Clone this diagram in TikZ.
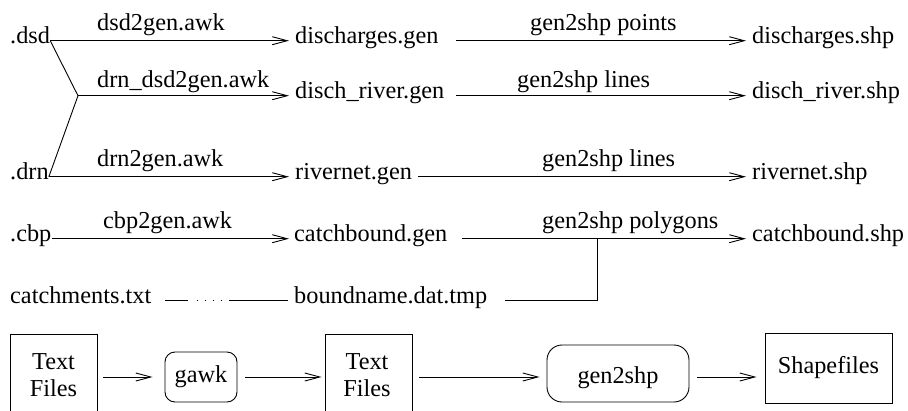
\documentclass[tikz,border=0pt]{standalone}
\usepackage{fontspec}
\setmainfont{Liberation Serif}
\usetikzlibrary{arrows.meta,calc}
\begin{document}
\begin{tikzpicture}[x=1pt,y=-1pt,
  every node/.style={font=\rmfamily\fontsize{24.3}{27}\selectfont, inner sep=0pt},
  file/.style={anchor=base west},
  lbl/.style={anchor=base west},
  conn/.style={line width=0.9pt},
  arr/.style={conn,-{Straight Barb[length=15pt,width=8pt,line width=0.9pt]}},
  filebox/.style={draw,line width=0.9pt,minimum width=87pt,minimum height=100pt},
  proc/.style={draw,line width=0.9pt,rounded corners=10pt}]
\clip (0,0) rectangle (908,410);

% source files
\node[file] (dsd) at (10,43) {.dsd};
\node[file] (drn) at (10,179) {.drn};
\node[file] (cbp) at (10,241) {.cbp};
\node[file] (cat) at (10,303) {catchments.txt};
% generate files
\node[file] (dgen) at (295,43) {discharges.gen};
\node[file] (rgen) at (295,98) {disch\_river.gen};
\node[file] (ngen) at (295,179) {rivernet.gen};
\node[file] (cgen) at (294,241) {catchbound.gen};
\node[file] (bnd) at (294,303) {boundname.dat.tmp};
% shapefiles
\node[file] (dshp) at (752,43) {discharges.shp};
\node[file] (rshp) at (752,98) {disch\_river.shp};
\node[file] (nshp) at (752,179) {rivernet.shp};
\node[file] (cshp) at (752,241) {catchbound.shp};

% script labels
\node[lbl] (l1) at (97,30) {dsd2gen.awk};
\node[lbl] (l2) at (97,87) {drn\_dsd2gen.awk};
\node[lbl] (l3) at (97,166) {drn2gen.awk};
\node[lbl] (l4) at (103,228) {cbp2gen.awk};
\node[lbl] (l5) at (530,30) {gen2shp points};
\node[lbl] (l6) at (517,87) {gen2shp lines};
\node[lbl] (l7) at (542,166) {gen2shp lines};
\node[lbl] (l8) at (542,228) {gen2shp polygons};

% column positions
\coordinate (sA) at (456,0);
\coordinate (sB) at (418,0);
\coordinate (sC) at (462,0);
\coordinate (jn) at (597,0);
\coordinate (bs) at (505,0);
\coordinate (d0) at (165,0);
\coordinate (d1) at (188,0);
\coordinate (d2) at (197,0);
\coordinate (d3) at (230,0);
\path (rgen.mid west) ++(-217,0) coordinate (br);

% awk conversions
\draw[conn] (dsd.mid east) -- (br) -- (drn.mid east);
\draw[arr] (dsd.mid east) -- ([xshift=-6pt]dgen.mid west);
\draw[arr] (br) -- ([xshift=-6pt]rgen.mid west);
\draw[arr] (drn.mid east) -- ([xshift=-6pt]ngen.mid west);
\draw[arr] (cbp.mid east) -- ([xshift=-5pt]cgen.mid west);

% gen2shp conversions
\draw[arr] (dgen.mid east -| sA) -- ([xshift=-6pt]dshp.mid west);
\draw[arr] (rgen.mid east -| sA) -- ([xshift=-6pt]rshp.mid west);
\draw[arr] (ngen.mid east -| sB) -- ([xshift=-6pt]nshp.mid west);
\draw[arr] (cgen.mid east -| sC) -- ([xshift=-6pt]cshp.mid west);
\draw[conn] (bnd.mid east -| bs) -- (bnd.mid east -| jn) -- (cgen.mid east -| jn);

% catchment names
\draw[conn] (cat.mid east -| d0) -- (cat.mid east -| d1);
\draw[conn,dash pattern=on 1.2pt off 6.8pt] (cat.mid east -| d2) -- (cat.mid east -| d3);
\draw[conn] (cat.mid east -| d3) -- ([xshift=-6pt]bnd.mid west);

% legend
\node[filebox] (tf1) at (53.5,384) {};
\node[align=center] (tf1t) at (53.5,375.5) {Text\\Files};
\node[proc,minimum width=72pt,minimum height=50pt] (gawk) at (201,377) {gawk};
\node[filebox] (tf2) at (368.5,384) {};
\node[align=center] (tf2t) at (367,375.5) {Text\\Files};
\node[proc,rounded corners=15pt,minimum width=142pt,minimum height=57pt,text height=20pt,text depth=1pt] (g2s) at (618,373.5) {gen2shp};
\node[draw,line width=0.9pt,minimum width=127pt,minimum height=70pt] (shp) at (828.5,368) {Shapefiles};

\draw[arr] ($(tf1.east |- gawk.west)+(6,0)$) -- ($(gawk.west)+(-12,0)$);
\draw[arr] ($(gawk.east)+(8,0)$) -- ($(tf2.west |- gawk.west)+(-3,0)$);
\draw[arr] ($(tf2.east |- gawk.west)+(7,0)$) -- ($(g2s.west |- gawk.west)+(-7,0)$);
\draw[arr] ($(g2s.east |- gawk.west)+(8,0)$) -- ($(shp.west |- gawk.west)+(-8,0)$);
\end{tikzpicture}
\end{document}
